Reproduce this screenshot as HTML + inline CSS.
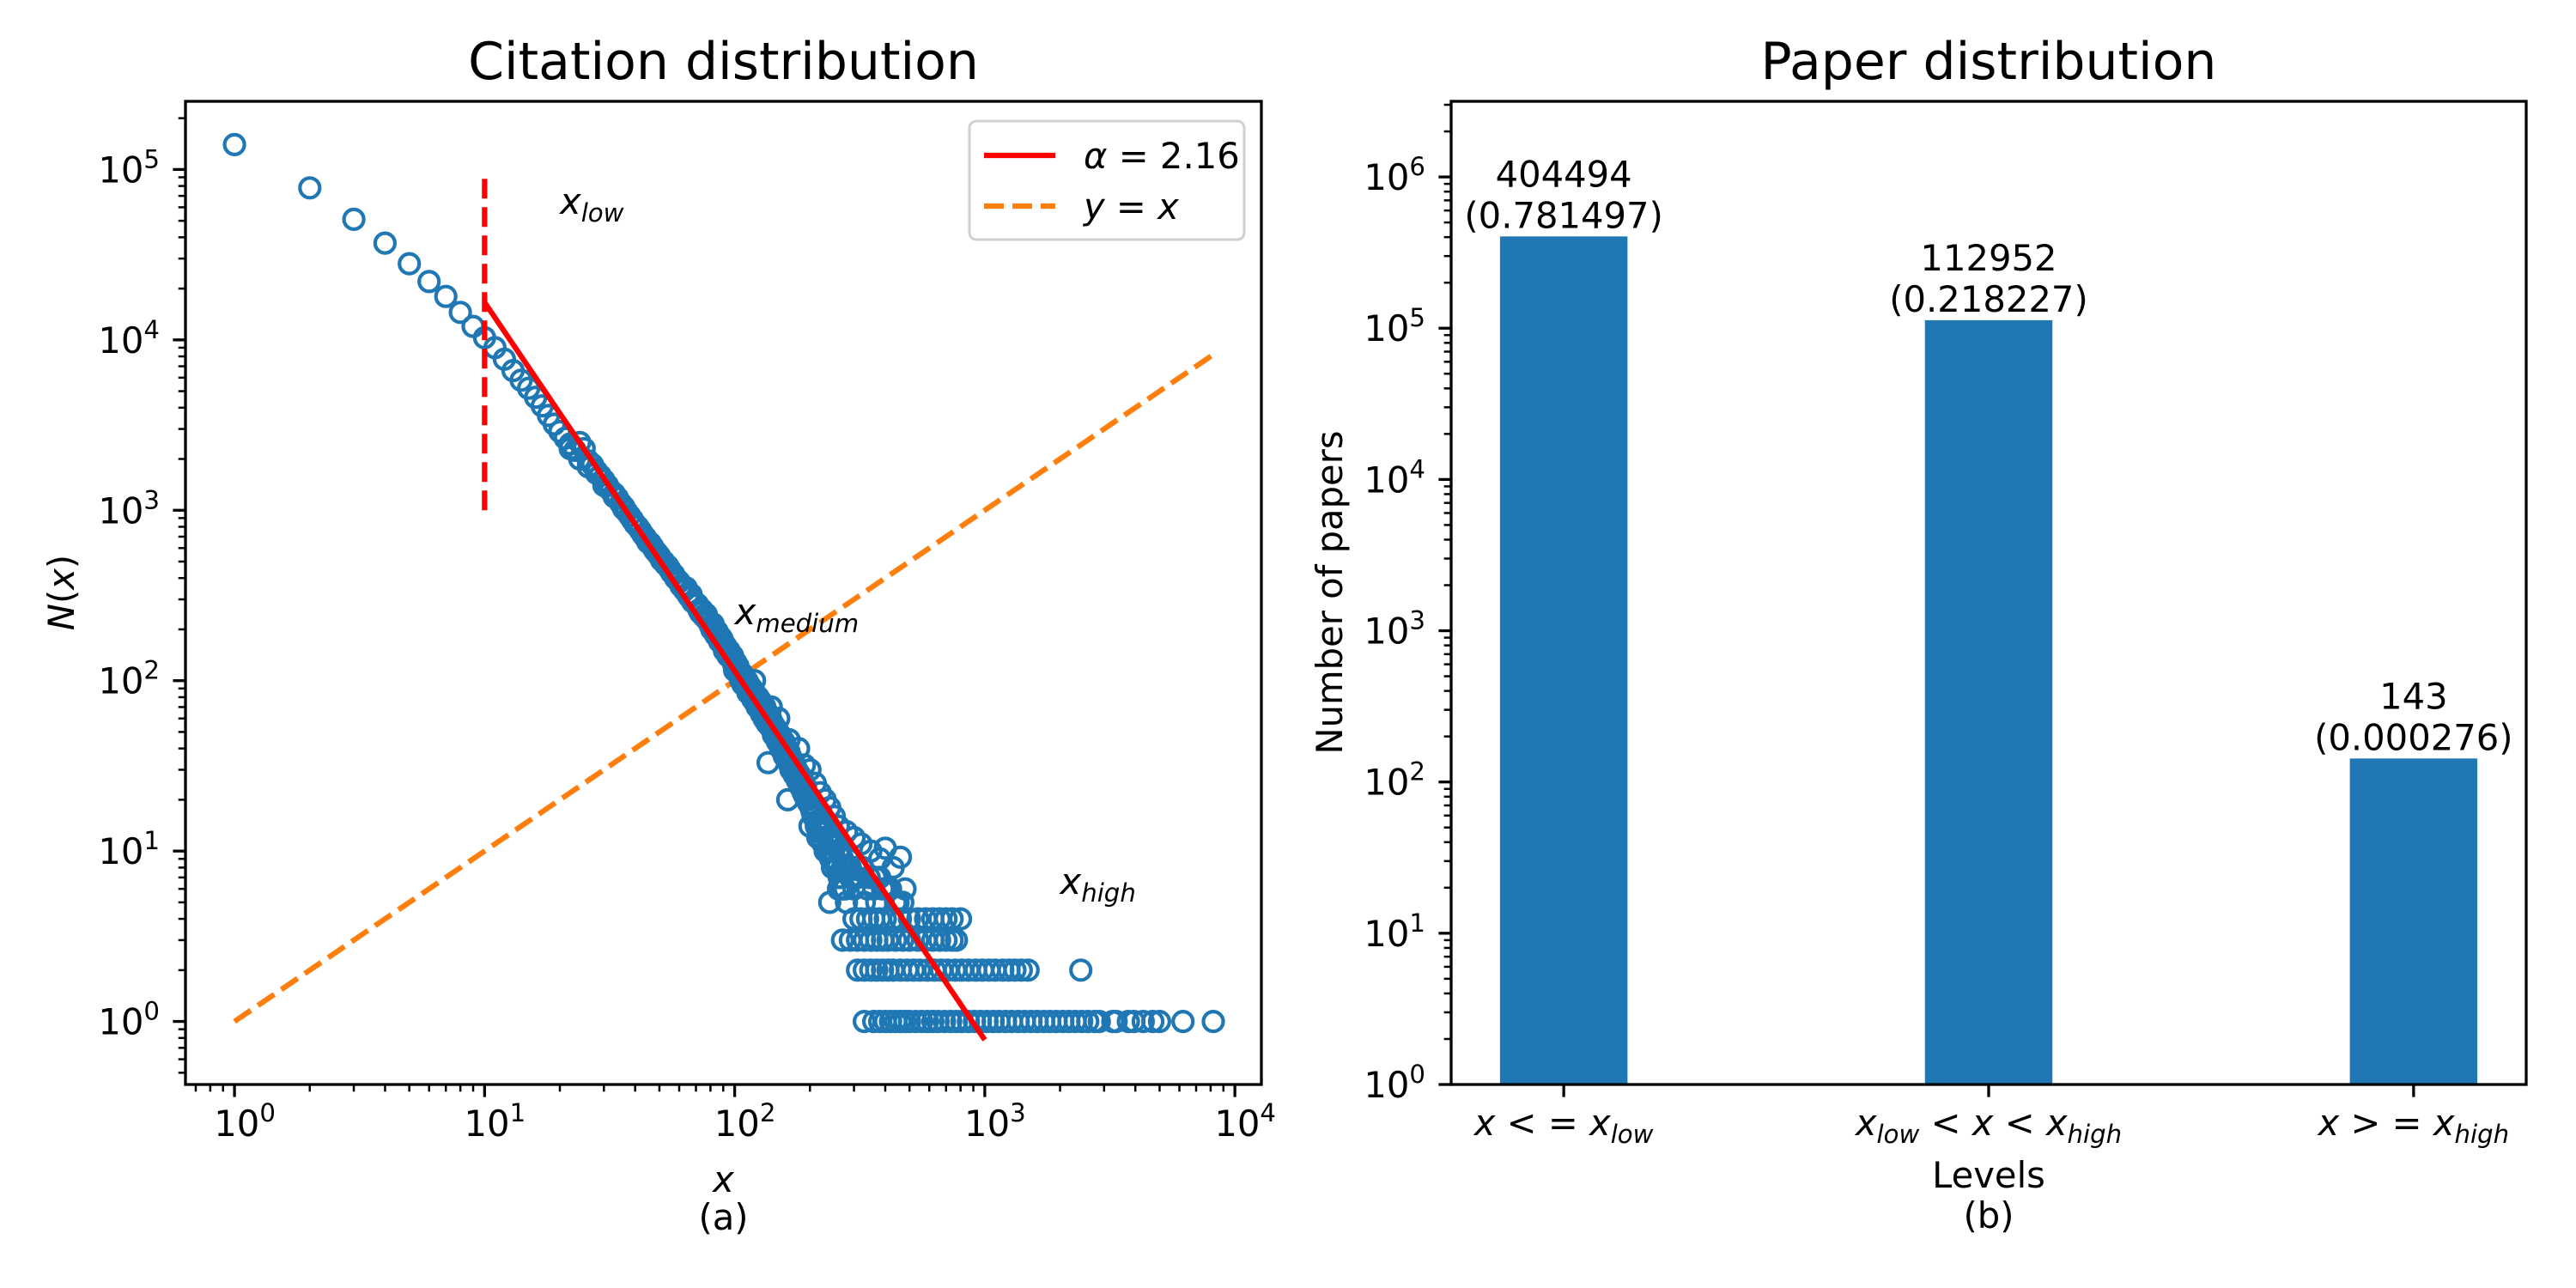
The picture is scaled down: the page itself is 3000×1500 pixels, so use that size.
<!DOCTYPE html>
<html><head><meta charset="utf-8">
<style>
html,body{margin:0;padding:0;background:#fff;}
svg{display:block;font-family:"DejaVu Sans","Liberation Sans",sans-serif;}
</style></head>
<body>
<svg id="fig" width="3000" height="1500" viewBox="0 0 3000 1500" xmlns="http://www.w3.org/2000/svg">
<rect width="3000" height="1500" fill="#fff"/>
<g id="left"></g>
<g id="right"></g>
</svg>
<script>
// ---------- Data: citation distribution (left) ----------
const headX = [1,2,3,4,5,6,7,8,9,10];
const headY = [140000,78000,51000,37000,28000,22000,18000,14500,12000,10300];
const bodyX = [11,12,13,14,15,16,17,18,19,20,21,22,23,24,25,26,27,28,29,30,31,32,33,34,35,36,37,38,39,40,42,44,46,48,50,52,54,56,58,60,62,65,68,70,72,75,78,80,83,86,90,93,96,100,105,110,115,120,125,130,136,140,145,150,155,160,163,170,175,180,185,190,200,210,220,230,240,250,260,270,280,290,300];
const bodyY = [9000,7700,6600,5800,5200,4600,4100,3600,3200,2900,2650,2450,2250,2500,2300,1950,1850,1700,1600,1500,1400,1300,1250,1180,1100,1050,980,930,880,830,760,690,640,580,540,500,470,430,400,380,360,320,290,280,260,240,225,210,195,180,165,155,145,115,105,98,88,80,72,66,33,58,50,46,42,38,20,34,30,27,24,22,19,17,15,14,12,11,10,9,8,8,7];
const bandX = [22,24,26,28,30,33,36,39,41,43,45,47,49,51,53,55,57,59,61,63,64,66,67,69,71,73,74,76,77,79,81,82,84,85,87,88,89,91,92,94,95,97,98,99,101,102,103,104,106,107,108,109,111,112,113,114,116,117,118,119,121,122,123,124,126,127,128,129,131,132,133,134,135,137,138,139,141,142,143,144,146,147,148,149,151,152,153,154,156,157,158,159,161,162,164,165,166,167,168,169,171,172,173,174,176,177,178,179,181,182,183,184,186,187,188,189,191,192,194,196,198,202,204,206,208,212,214,216,218,222,224,226,228,232,234,236,238,242,244,246,248,252,255,258,262,265,268,272,276];
const bandY = [2300,2000,1800,1650,1400,1200,1020,880,800,720,650,610,560,510,480,450,420,390,360,340,350,310,320,290,280,250,260,235,245,220,200,215,185,195,170,180,175,150,160,140,150,135,140,125,128,112,122,108,100,110,95,104,92,100,85,95,82,90,78,86,74,82,70,80,68,76,64,72,60,70,58,66,56,62,54,60,52,56,48,54,46,52,44,50,42,48,40,46,38,44,36,42,35,40,34,38,32,36,30,34,29,33,28,32,27,30,26,29,25,28,24,27,23,26,22,25,21,24,20,20,19,18,17,16,16,14,15,13,15,12,14,11,13,10,12,10,11,9,11,8,10,9,8,8,7,7,6,6,6];
const scatX = [120,140,150,165,180,190,200,210,220,230,240,250,260,280,300,320,350,380,400,430,460,480,200,215,230,250,270,290,310,340,360,380,420,450,240,260,280,300,330,370,400,440,210,225,245,265,285,305,325,345,365,390,410,440,470];
const scatY = [100,70,60,45,40,32,30,25,22,20,18,16,14,13,12,11,10,9,10.4,8,9.2,6,14,12,10,9,8,7,7,6,6,7,6,5,5,6,5,6,5,5,6,5,18,15,12,10,9,8,8,7,7,6,6,5,5];
const row4X = [300,320,340,360,380,400,430,460,500,540,580,620,660,700,740,800];
const row3X = [270,290,310,330,350,370,390,410,440,470,500,540,580,620,660,700,740,770];
const row2X = [310,330,350,370,390,410,430,460,490,520,550,590,630,670,710,760,810,860,920,980,1040,1100,1180,1250,1320,1400,1490,2420];
const row1X = [330,360,380,400,420,440,460,480,500,530,560,590,620,650,690,730,770,810,860,910,960,1020,1080,1140,1210,1280,1360,1440,1530,1620,1720,1820,1930,2050,2170,2300,2440,2580,2750,2870,3250,3350,3750,3950,4300,4700,5000,6200,8200];
const fitX = [10,1000];
const fitY = [16600,0.78];
const refX = [1,8130];
const xlowLine = [1000,90000];
const xTickExp = [0,1,2,3,4];
const yTickExp = [0,1,2,3,4,5];

// ---------- Data: paper distribution (right) ----------
const categories = ["le","mid","ge"];
const paperCounts = [404494,112952,143];
const paperFractions = ["0.781497","0.218227","0.000276"];
const barYTickExp = [0,1,2,3,4,5,6];

const NS="http://www.w3.org/2000/svg";
function mk(tag,attrs,parent){const e=document.createElementNS(NS,tag);for(const k in attrs)e.setAttribute(k,attrs[k]);if(parent)parent.appendChild(e);return e;}
const FS=41.7;
const TFS=60;

// ===== Left axes =====
const L={x0:216,x1:1469,y0:118,y1:1263};
const xmin=-0.196, xmax=4.106, ymin=-0.37, ymax=5.4;
function lx(v){return L.x0+(Math.log10(v)-xmin)/(xmax-xmin)*(L.x1-L.x0);}
function ly(v){return L.y1-(Math.log10(v)-ymin)/(ymax-ymin)*(L.y1-L.y0);}
const gl=document.getElementById('left');

const defs=mk('defs',{},document.getElementById('fig'));
const cp=mk('clipPath',{id:'clipL'},defs);
mk('rect',{x:L.x0,y:L.y0,width:L.x1-L.x0,height:L.y1-L.y0},cp);

const plotL=mk('g',{'clip-path':'url(#clipL)'},gl);



const refLine=mk('line',{x1:lx(refX[0]),y1:ly(refX[0]),x2:lx(refX[1]),y2:ly(refX[1]),stroke:'#ff7f0e','stroke-width':6.25,'stroke-dasharray':'23 10'},plotL);



const scat=mk('g',{fill:'none',stroke:'#1f77b4','stroke-width':4.2},plotL);


function pt(x,y){const c=mk('circle',{cx:lx(x).toFixed(1),cy:ly(y).toFixed(1),r:11.5},scat);

}
headX.forEach((x,i)=>pt(x,headY[i]));
bodyX.forEach((x,i)=>pt(x,bodyY[i]));
bandX.forEach((x,i)=>pt(x,bandY[i]));
scatX.forEach((x,i)=>pt(x,scatY[i]));
row4X.forEach(x=>pt(x,4));
row3X.forEach(x=>pt(x,3));
row2X.forEach(x=>pt(x,2));
row1X.forEach(x=>pt(x,1));

const fit=mk('line',{x1:lx(fitX[0]),y1:ly(fitY[0]),x2:lx(fitX[1]),y2:ly(fitY[1]),stroke:'#ff0000','stroke-width':6.25},plotL);


const vl=mk('line',{x1:lx(10),y1:ly(xlowLine[0]),x2:lx(10),y2:ly(xlowLine[1]),stroke:'#ff0000','stroke-width':6.25,'stroke-dasharray':'23 10'},plotL);



function subLabel(parent,x,y,main,sub,name,anchor){
  const t=mk('text',{x:x,y:y,'font-size':FS,'font-style':'italic','text-anchor':anchor||'start'},parent);
  
  
  const a=mk('tspan',{},t);a.textContent=main;
  const b=mk('tspan',{'font-size':FS*0.7,dy:9},t);b.textContent=sub;
  return t;
}
subLabel(gl,lx(20),ly(50000)-8,'x','low','x-low-label');
subLabel(gl,lx(100),ly(200)-6,'x','medium','x-medium-label');
subLabel(gl,lx(2000),ly(5)-10,'x','high','x-high-label');

const sp=mk('rect',{x:L.x0,y:L.y0,width:L.x1-L.x0,height:L.y1-L.y0,fill:'none',stroke:'#000','stroke-width':3.3},gl);



function powLabel(parent,x,y,e,anchor,name){
  const t=mk('text',{x:x,y:y,'font-size':FS,'text-anchor':anchor},parent);
  
  
  const a=mk('tspan',{},t);a.textContent='10';
  const b=mk('tspan',{'font-size':FS*0.7,dy:-17},t);b.textContent=String(e);
}
const xt=mk('g',{stroke:'#000'},gl);


for(let d=-1;d<=4;d++){for(let m=1;m<10;m++){const v=m*Math.pow(10,d);const lv=Math.log10(v);if(lv<xmin||lv>xmax)continue;
 const X=lx(v);mk('line',{x1:X,x2:X,y1:L.y1,y2:L.y1+(m===1?14.6:8.3),'stroke-width':m===1?3.3:2.5},xt);}}
xTickExp.forEach(e=>powLabel(gl,lx(Math.pow(10,e))+12,1323,e,'middle','x-tick-label'));
const yt=mk('g',{stroke:'#000'},gl);


for(let d=-1;d<=5;d++){for(let m=1;m<10;m++){const v=m*Math.pow(10,d);const lv=Math.log10(v);if(lv<ymin||lv>ymax)continue;
 const Y=ly(v);mk('line',{x1:L.x0,x2:L.x0-(m===1?14.6:8.3),y1:Y,y2:Y,'stroke-width':m===1?3.3:2.5},yt);}}
yTickExp.forEach(e=>powLabel(gl,186,ly(Math.pow(10,e))+15,e,'end','y-tick-label'));

let t=mk('text',{x:(L.x0+L.x1)/2,y:92,'font-size':TFS,'text-anchor':'middle'},gl);t.textContent='Citation distribution';


t=mk('text',{x:(L.x0+L.x1)/2,y:1388,'font-size':FS,'text-anchor':'middle','font-style':'italic'},gl);t.textContent='x';


t=mk('text',{x:(L.x0+L.x1)/2,y:1432,'font-size':FS,'text-anchor':'middle'},gl);t.textContent='(a)';


t=mk('text',{x:0,y:0,'font-size':FS,'text-anchor':'middle',transform:'translate(86,690) rotate(-90)'},gl);


let s=mk('tspan',{'font-style':'italic'},t);s.textContent='N';
s=mk('tspan',{},t);s.textContent='(';
s=mk('tspan',{'font-style':'italic'},t);s.textContent='x';
s=mk('tspan',{},t);s.textContent=')';

const lg=mk('g',{},gl);


mk('rect',{x:1129,y:141,width:320,height:138,rx:8,fill:'#fff','fill-opacity':0.8,stroke:'#d0d0d0','stroke-width':3},lg);
const e1=mk('g',{},lg);


mk('line',{x1:1146,x2:1229,y1:181,y2:181,stroke:'#ff0000','stroke-width':6.25},e1);
t=mk('text',{x:1262,y:196,'font-size':FS},e1);
s=mk('tspan',{'font-style':'italic'},t);s.textContent='α';
s=mk('tspan',{},t);s.textContent=' = 2.16';
const e2=mk('g',{},lg);


mk('line',{x1:1146,x2:1229,y1:240,y2:240,stroke:'#ff7f0e','stroke-width':6.25,'stroke-dasharray':'23 10'},e2);
t=mk('text',{x:1262,y:255,'font-size':FS},e2);
s=mk('tspan',{'font-style':'italic'},t);s.textContent='y';
s=mk('tspan',{},t);s.textContent=' = ';
s=mk('tspan',{'font-style':'italic'},t);s.textContent='x';

// ===== Right axes =====
const R={x0:1690,x1:2942,y0:118,y1:1263};
const bxmin=-0.265,bxmax=2.265,bymin=0,bymax=6.5;
function bx(i){return R.x0+(i-bxmin)/(bxmax-bxmin)*(R.x1-R.x0);}
function by(v){return R.y1-(Math.log10(v)-bymin)/(bymax-bymin)*(R.y1-R.y0);}
const gr=document.getElementById('right');
const barW=0.3*(R.x1-R.x0)/(bxmax-bxmin);
paperCounts.forEach((v,i)=>{
  const b=mk('rect',{x:bx(i)-barW/2,y:by(v),width:barW,height:R.y1-by(v),fill:'#1f77b4'},gr);
  
  
  const tt=mk('text',{x:bx(i),y:by(v)-58,'font-size':FS,'text-anchor':'middle'},gr);tt.textContent=String(v);
  
  
  const tf=mk('text',{x:bx(i),y:by(v)-10,'font-size':FS,'text-anchor':'middle'},gr);tf.textContent='('+paperFractions[i]+')';
  
  
});
const sp2=mk('rect',{x:R.x0,y:R.y0,width:R.x1-R.x0,height:R.y1-R.y0,fill:'none',stroke:'#000','stroke-width':3.3},gr);


const yt2=mk('g',{stroke:'#000'},gr);


for(let d=0;d<=6;d++){for(let m=1;m<10;m++){const v=m*Math.pow(10,d);const lv=Math.log10(v);if(lv<bymin||lv>bymax)continue;
 const Y=by(v);mk('line',{x1:R.x0,x2:R.x0-(m===1?14.6:8.3),y1:Y,y2:Y,'stroke-width':m===1?3.3:2.5},yt2);}}
barYTickExp.forEach(e=>powLabel(gr,1660,by(Math.pow(10,e))+15,e,'end','bar-y-tick-label'));
categories.forEach((c,i)=>mk('line',{x1:bx(i),x2:bx(i),y1:R.y1,y2:R.y1+14.6,stroke:'#000','stroke-width':3.3},gr));
function catLabel(i,parts){
  const tt=mk('text',{x:bx(i),y:1322,'font-size':FS,'text-anchor':'middle'},gr);
  
  
  parts.forEach(p=>{const q=mk('tspan',p[1]==='sub'?{'font-size':FS*0.7,'font-style':'italic',dy:9}:(p[1]==='up'?{dy:-9}:(p[1]==='it'?{'font-style':'italic'}:{})),tt);q.textContent=p[0];});
}
catLabel(0,[['x','it'],[' < = ',''],['x','it'],['low','sub']]);
catLabel(1,[['x','it'],['low','sub'],[' < ','up'],['x','it'],[' < ',''],['x','it'],['high','sub']]);
catLabel(2,[['x','it'],[' > = ',''],['x','it'],['high','sub']]);

t=mk('text',{x:(R.x0+R.x1)/2,y:92,'font-size':TFS,'text-anchor':'middle'},gr);t.textContent='Paper distribution';


t=mk('text',{x:(R.x0+R.x1)/2,y:1383,'font-size':FS,'text-anchor':'middle'},gr);t.textContent='Levels';


t=mk('text',{x:(R.x0+R.x1)/2,y:1430,'font-size':FS,'text-anchor':'middle'},gr);t.textContent='(b)';


t=mk('text',{x:0,y:0,'font-size':FS,'text-anchor':'middle',transform:'translate(1563,690) rotate(-90)'},gr);t.textContent='Number of papers';


</script>
</body></html>
